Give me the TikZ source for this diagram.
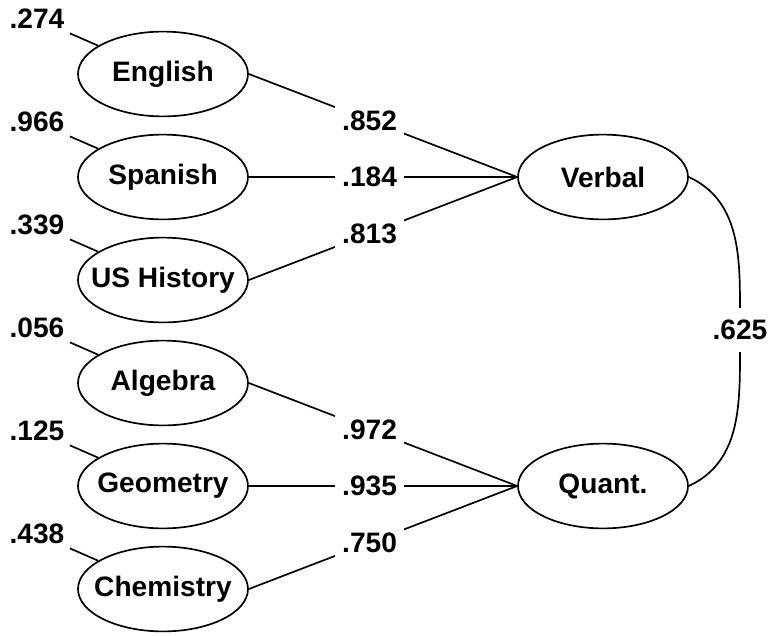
\documentclass[tikz,border=0pt]{standalone}
\usepackage{fontspec}
\setmainfont{Liberation Sans}
\usetikzlibrary{shapes.geometric}

\begin{document}
\begin{tikzpicture}[node distance=2.575cm,line width=1.2pt,
  every node/.style={font=\fontsize{20}{24}\selectfont\bfseries},
  var/.style={ellipse,draw,minimum width=4.25cm,minimum height=2.12cm,inner xsep=-0.5cm,inner ysep=0pt},
  coef/.style={fill=white,inner sep=5pt}]
\useasboundingbox (0,0) rectangle (19.275,-15.9);
% observed variables
\node[var]          (english)  at (4.075,-1.85)    {English};
\node[var]          (spanish)  [below of=english]  {Spanish};
\node[var]          (ushist)   [below of=spanish]  {US History};
\node[var]          (algebra)  [below of=ushist]   {Algebra};
\node[var]          (geometry) [below of=algebra]  {Geometry};
\node[var]          (chem)     [below of=geometry] {Chemistry};
% factors
\node[var]          (verbal)   [right of=spanish,node distance=11cm]  {Verbal};
\node[var]          (quant)    [right of=geometry,node distance=11cm] {Quant.};
% residuals
\node (r_english)  at ([shift={(-3.15,1.375)}]english)  {.274};
\node (r_spanish)  at ([shift={(-3.15,1.375)}]spanish)  {.966};
\node (r_ushist)   at ([shift={(-3.15,1.375)}]ushist)   {.339};
\node (r_algebra)  at ([shift={(-3.15,1.375)}]algebra)  {.056};
\node (r_geometry) at ([shift={(-3.15,1.375)}]geometry) {.125};
\node (r_chem)     at ([shift={(-3.15,1.375)}]chem)     {.438};
\node[inner sep=8pt] (corr) at (18.5,-8.25) {.625};
\path
          (r_english)  edge (english)
          (r_spanish)  edge (spanish)
          (r_ushist)   edge (ushist)
          (r_algebra)  edge (algebra)
          (r_geometry) edge (geometry)
          (r_chem)     edge (chem);
\path
          (english.east)  edge node[coef,pos=0.45] {.852} (verbal.west)
          (spanish.east)  edge node[coef,pos=0.45] {.184} (verbal.west)
          (ushist.east)   edge node[coef,pos=0.45] {.813} (verbal.west)
          (algebra.east)  edge node[coef,pos=0.45] {.972} (quant.west)
          (geometry.east) edge node[coef,pos=0.45] {.935} (quant.west)
          (chem.east)     edge node[coef,pos=0.45] {.750} (quant.west);
\draw (verbal.east) to[out=-25,in=90] (corr.north);
\draw (corr.south) to[out=-90,in=25] (quant.east);
\end{tikzpicture}
\end{document}
